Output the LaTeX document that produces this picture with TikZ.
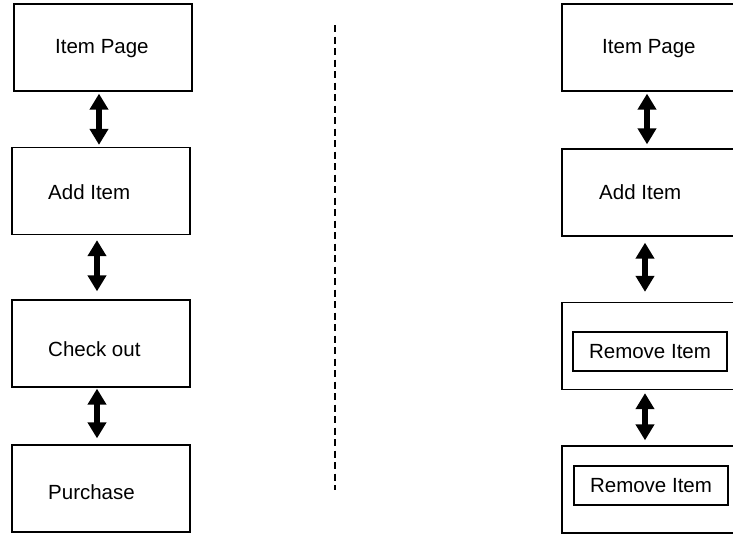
\documentclass[tikz,border=0pt]{standalone}
\usepackage{fontspec}
\setmainfont{Liberation Sans}
\usetikzlibrary{arrows.meta, positioning}

\tikzset{
    page/.style={draw, line width=1.3pt, minimum width=178pt, minimum height=87pt, inner sep=0pt},
    inner/.style={draw, line width=1.3pt, minimum width=154pt, minimum height=39pt, inner sep=0pt,
        font=\fontsize{20.5}{24}\selectfont},
    txt/.style={anchor=base west, inner sep=0pt, font=\fontsize{20.5}{24}\selectfont},
    flow/.style={line width=6pt, {Triangle[width=18pt, length=16pt]}-{Triangle[width=18pt, length=16pt]}}
}

\begin{document}
\begin{tikzpicture}[x=1pt, y=-1pt]
    \useasboundingbox (0,0) rectangle (733,533);

    % left: normal checkout
    \node[page] (l1) at (103,47.5) {};
    \node[page] (l2) at (101,191) {};
    \node[page] (l3) at (101,343.5) {};
    \node[page] (l4) at (101,488.5) {};
    \node[txt] (tl1) at (55,53) {Item Page};
    \node[txt] (tl2) at (48,199) {Add Item};
    \node[txt] (tl3) at (48,356) {Check out};
    \node[txt] (tl4) at (48,499) {Purchase};

    \draw[flow, shorten <=2pt, shorten >=2pt] ([xshift=-4pt]l1.south) -- ([xshift=-2pt]l2.north);
    \draw[flow, shorten <=5pt, shorten >=8pt] ([xshift=-4pt]l2.south) -- ([xshift=-4pt]l3.north);
    \draw[flow, shorten <=1pt, shorten >=6pt] ([xshift=-4pt]l3.south) -- ([xshift=-4pt]l4.north);

    % divider
    \coordinate (top) at (335,25);
    \coordinate (bot) at (335,490);
    \draw[line width=1.3pt, dash pattern=on 7pt off 4.5pt] (top) -- (bot);

    % right: remove item
    \node[page] (r1) at (651,47.5) {};
    \node[page] (r2) at (651,192.5) {};
    \node[page] (r3) at (651,346) {};
    \node[page] (r4) at (651,489.5) {};
    \node[txt] (tr1) at (602,53) {Item Page};
    \node[txt] (tr2) at (599,199) {Add Item};
    \node[inner] (rm1) at (650,351.5) {Remove Item};
    \node[inner] (rm2) at (651,485.5) {Remove Item};

    \draw[flow, shorten <=2pt, shorten >=4pt] ([xshift=-4pt]r1.south) -- ([xshift=-4pt]r2.north);
    \draw[flow, shorten <=6pt, shorten >=10pt] ([xshift=-6pt]r2.south) -- ([xshift=-6pt]r3.north);
    \draw[flow, shorten <=3pt, shorten >=5pt] ([xshift=-6pt]r3.south) -- ([xshift=-6pt]r4.north);
\end{tikzpicture}
\end{document}
